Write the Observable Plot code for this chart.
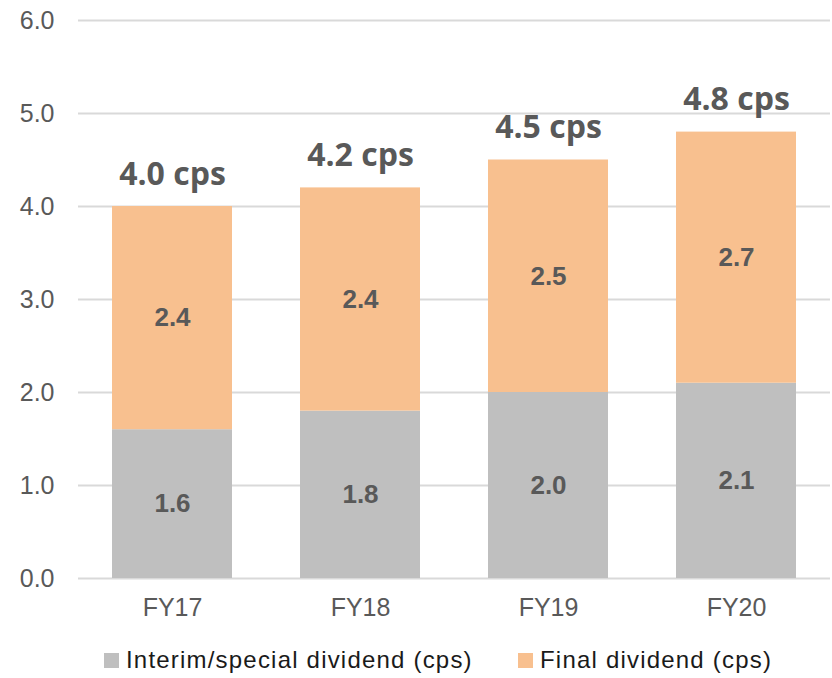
<!DOCTYPE html>
<html>
<head>
<meta charset="utf-8">
<script src="https://cdn.jsdelivr.net/npm/d3@7"></script>
<script src="https://cdn.jsdelivr.net/npm/@observablehq/plot@0.6"></script>
<style>
  html, body { margin: 0; padding: 0; background: #fff; }
  #chart { width: 832px; position: relative; }
  .legend { position: relative; height: 46px; font-family: Arial, "Liberation Sans", sans-serif; font-size: 24px; letter-spacing: 1.2px; color: #1a1a1a; }
  .legend .item { position: absolute; top: 14px; display: flex; align-items: center; white-space: nowrap; }
  .legend .sw { width: 15px; height: 15px; margin-right: 7px; }
</style>
</head>
<body>
<div id="chart"></div>
<script>
const years = ["FY17", "FY18", "FY19", "FY20"];
const interim = [1.6, 1.8, 2.0, 2.1];
const finalDiv = [2.4, 2.4, 2.5, 2.7];
const totals = [4.0, 4.2, 4.5, 4.8];
const seriesNames = ["Interim/special dividend (cps)", "Final dividend (cps)"];
const seriesColors = ["#bfbfbf", "#f8c08f"];
const yTicks = [0, 1, 2, 3, 4, 5, 6];

const rows = [];
years.forEach((yr, i) => {
  rows.push({year: yr, series: seriesNames[0], value: interim[i]});
  rows.push({year: yr, series: seriesNames[1], value: finalDiv[i]});
});
const totalRows = years.map((yr, i) => ({year: yr, total: totals[i]}));

const plot = Plot.plot({
  width: 832,
  height: 632,
  marginLeft: 78,
  marginRight: 2,
  marginTop: 20,
  marginBottom: 54,
  style: {fontFamily: "Arial, 'Liberation Sans', sans-serif", background: "#fff"},
  x: {domain: years, paddingInner: 0.36, paddingOuter: 0.18, label: null},
  y: {domain: [0, 6], label: null},
  color: {domain: seriesNames, range: seriesColors},
  marks: [
    Plot.gridY(yTicks, {stroke: "#d9d9d9", strokeOpacity: 1, strokeWidth: 2}),
    Plot.axisY(yTicks, {tickSize: 0, tickPadding: 24, tickFormat: d => d.toFixed(1), fontSize: 25, fill: "#595959", label: null}),
    Plot.axisX({tickSize: 0, tickPadding: 20, fontSize: 25, fill: "#595959", label: null}),
    Plot.barY(rows, {x: "year", y: "value", fill: "series", order: seriesNames}),
    Plot.text(rows, Plot.stackY({x: "year", y: "value", z: "series", order: seriesNames, text: d => d.value.toFixed(1), fontSize: 26, fontWeight: "bold", fill: "#595959", fontFamily: "Arial, 'Liberation Sans', sans-serif"})),
    Plot.text(totalRows, {x: "year", y: "total", text: d => d.total.toFixed(1) + " cps", dy: -32, fontSize: 32, fontWeight: "bold", fill: "#595959", fontFamily: "'Open Sans', sans-serif"})
  ]
});
document.getElementById("chart").appendChild(plot);

const legendX = [104, 518];
const legend = document.createElement("div");
legend.className = "legend";
seriesNames.forEach((name, i) => {
  const item = document.createElement("div");
  item.className = "item";
  item.style.left = legendX[i] + "px";
  const sw = document.createElement("span");
  sw.className = "sw";
  sw.style.background = seriesColors[i];
  const label = document.createElement("span");
  label.textContent = name;
  item.appendChild(sw);
  item.appendChild(label);
  legend.appendChild(item);
});
document.getElementById("chart").appendChild(legend);
</script>
</body>
</html>
